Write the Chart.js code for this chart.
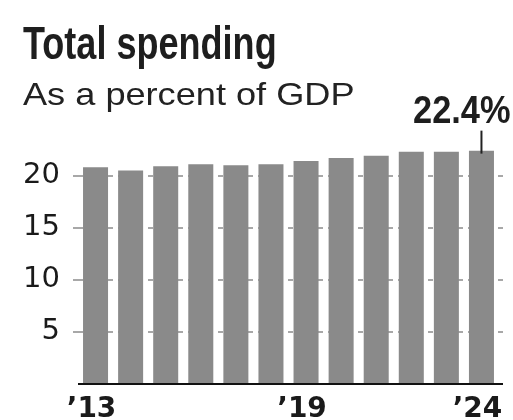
<!DOCTYPE html>
<html>
<head>
<meta charset="utf-8">
<script src="https://cdn.jsdelivr.net/npm/chart.js@4.4.1/dist/chart.umd.min.js"></script>
<style>
  html, body { margin: 0; padding: 0; background: #fff; }
  #wrap { position: relative; width: 513px; height: 420px; overflow: hidden; }
  #chart { position: absolute; left: 0; top: 0; }
  .txt { position: absolute; white-space: nowrap; line-height: 1; transform-origin: 0 0; color: #222; }
  #title { font: bold 46px 'Liberation Sans', Arial, sans-serif; color: #1e1e1e; }
  #subtitle { font: 32px 'Liberation Sans', Arial, sans-serif; }
</style>
</head>
<body>
<div id="wrap">
  <canvas id="chart" width="513" height="420"></canvas>
  <div id="title" class="txt">Total spending</div>
  <div id="subtitle" class="txt">As a percent of GDP</div>
</div>
<script>
// ---- data ----
const years = ["’13","’14","’15","’16","’17","’18","’19","’20","’21","’22","’23","’24"];
const spending = [20.8, 20.5, 20.9, 21.1, 21.0, 21.1, 21.4, 21.7, 21.9, 22.3, 22.3, 22.4];
const shownYearLabels = ["’13", "’19", "’24"];
const yTickValues = [5, 10, 15, 20];
const annotationText = "22.4%";

// ---- fit HTML text to measured ink box ----
const mctx = document.createElement('canvas').getContext('2d');
function fitText(el, font, size, inkLeft, baseline, inkWidth) {
  mctx.font = font;
  const m = mctx.measureText(el.textContent);
  const ink = m.actualBoundingBoxRight + m.actualBoundingBoxLeft;
  const sx = inkWidth / ink;
  const fba = m.fontBoundingBoxAscent, fbd = m.fontBoundingBoxDescent;
  const halfLead = (size - (fba + fbd)) / 2;
  el.style.left = (inkLeft + m.actualBoundingBoxLeft * sx) + 'px';
  el.style.top = (baseline - halfLead - fba) + 'px';
  el.style.transform = 'scaleX(' + sx + ')';
}

const barColor = '#8a8a8a';

const extrasPlugin = {
  id: 'extras',
  beforeDatasetsDraw(chart) {
    const { ctx, chartArea, scales } = chart;
    ctx.save();
    ctx.strokeStyle = '#a8a8a8';
    ctx.lineWidth = 2;
    ctx.setLineDash([5, 5]);
    yTickValues.forEach(v => {
      const y = Math.round(scales.y.getPixelForValue(v));
      ctx.beginPath();
      ctx.moveTo(chartArea.right - 1, y);
      ctx.lineTo(chartArea.right + 4, y);
      ctx.stroke();
    });
    ctx.restore();
  },
  afterDatasetsDraw(chart) {
    const { ctx, chartArea, scales } = chart;
    ctx.save();
    // axis line
    const y0 = scales.y.getPixelForValue(0);
    ctx.strokeStyle = '#111';
    ctx.lineWidth = 2;
    ctx.beginPath();
    ctx.moveTo(chartArea.left, y0 + 0.5);
    ctx.lineTo(chartArea.right + 4, y0 + 0.5);
    ctx.stroke();

    // annotation on last bar
    const meta = chart.getDatasetMeta(0);
    const last = meta.data[meta.data.length - 1];
    const bx = last.x, by = last.y;
    ctx.strokeStyle = '#222';
    ctx.lineWidth = 2;
    ctx.beginPath();
    ctx.moveTo(bx, by - 20);
    ctx.lineTo(bx, by + 3);
    ctx.stroke();

    ctx.font = "bold 39px 'Liberation Sans', Arial, sans-serif";
    ctx.fillStyle = '#1e1e1e';
    ctx.textAlign = 'left';
    ctx.textBaseline = 'alphabetic';
    const m = ctx.measureText(annotationText);
    const ink = m.actualBoundingBoxRight + m.actualBoundingBoxLeft;
    const targetW = 96;
    const sx = targetW / ink;
    const inkRight = bx + 28.5;
    const inkLeft = inkRight - targetW;
    ctx.translate(inkLeft + m.actualBoundingBoxLeft * sx, by - 27.7);
    ctx.scale(sx, 1);
    ctx.fillText(annotationText, 0, 0);
    ctx.restore();
  }
};

new Chart(document.getElementById('chart'), {
  type: 'bar',
  data: {
    labels: years,
    datasets: [{
      data: spending,
      backgroundColor: barColor,
      borderWidth: 0,
      categoryPercentage: 1.0,
      barPercentage: 0.713
    }]
  },
  options: {
    responsive: false,
    animation: false,
    devicePixelRatio: 1,
    layout: { padding: { top: 134, right: 14, left: 0, bottom: 0 } },
    plugins: { legend: { display: false }, tooltip: { enabled: false }, title: { display: false } },
    scales: {
      x: {
        grid: { display: false, drawTicks: false },
        border: { display: false },
        ticks: {
          autoSkip: false,
          maxRotation: 0,
          padding: 6,
          labelOffset: -4,
          color: '#1a1a1a',
          font: { family: "'DejaVu Sans'", weight: 'bold', size: 28, lineHeight: 1.45 },
          callback: function (val, idx) {
            const lab = this.getLabelForValue(val);
            return shownYearLabels.includes(lab) ? lab : '';
          }
        },
        afterFit(scale) { scale.height = 36.5; }
      },
      y: {
        min: 0,
        max: 24,
        grid: {
          display: true,
          drawOnChartArea: true,
          drawTicks: true,
          tickLength: 5,
          color: '#a8a8a8',
          lineWidth: 2
        },
        border: { display: false, dash: [5, 5] },
        ticks: {
          padding: 13,
          color: '#1a1a1a',
          font: { family: "'DejaVu Sans'", size: 29 }
        },
        afterBuildTicks(scale) { scale.ticks = yTickValues.map(v => ({ value: v })); },
        afterFit(scale) { scale.width = 78; }
      }
    }
  },
  plugins: [extrasPlugin]
});

fitText(document.getElementById('title'), "bold 46px 'Liberation Sans', Arial, sans-serif", 46, 23, 55, 252);
fitText(document.getElementById('subtitle'), "32px 'Liberation Sans', Arial, sans-serif", 32, 23, 103, 330);
</script>
</body>
</html>
